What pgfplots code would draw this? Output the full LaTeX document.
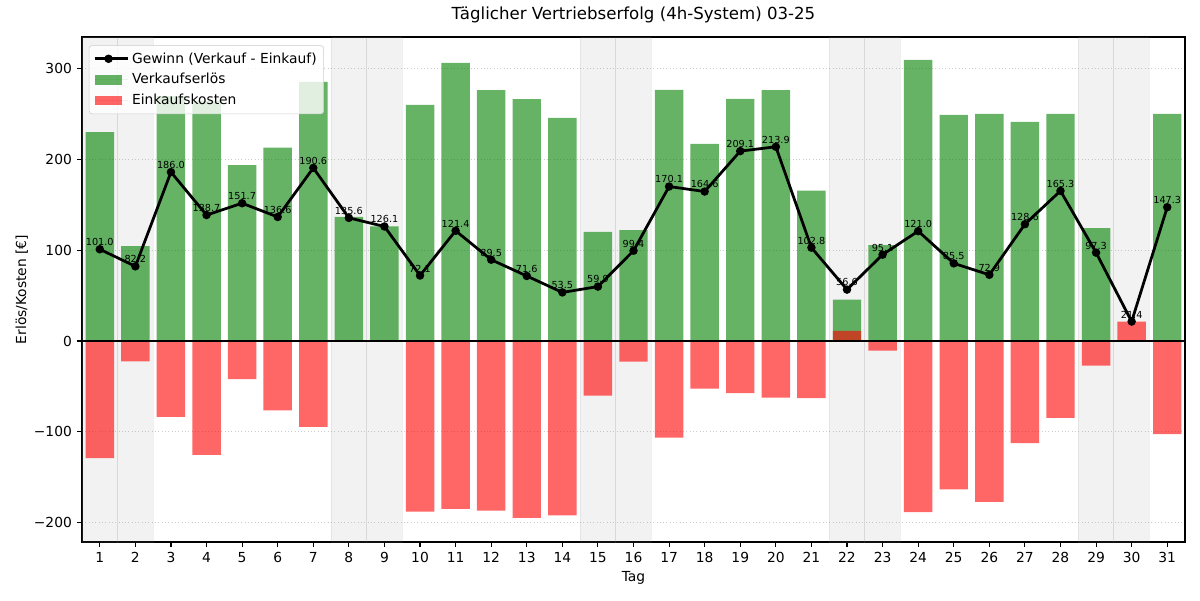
\documentclass[border=0pt]{standalone}
\usepackage{pgfplots}
\pgfplotsset{compat=1.18}
\usepackage{pgfplotstable}
\usepackage{fontspec}
\setmainfont{DejaVu Sans}
\definecolor{mplgreen}{RGB}{0,128,0}
\definecolor{mplred}{RGB}{255,0,0}
\definecolor{mplgray}{RGB}{128,128,128}

\pgfplotsset{
  lineleg/.style={legend image code/.code={
    \draw[##1, sharp corners, mark repeat=2, mark phase=2] plot coordinates {(0pt,0pt) (10pt,0pt) (20pt,0pt)};
    \path (0pt,0pt) -- (24pt,0pt);}},
  arealeg/.style={legend image code/.code={
    \fill[##1, sharp corners] (0pt,-3.5pt) rectangle (20pt,3.5pt);
    \path (0pt,0pt) -- (24pt,0pt);}},
}

\pgfplotstableread{
day green red profit
1 230.0 -129.0 101.0
2 104.6 -22.4 82.2
3 269.7 -83.7 186.0
4 264.2 -125.5 138.7
5 193.6 -41.9 151.7
6 213.0 -76.4 136.6
7 285.3 -94.7 190.6
8 136.6 -1.0 135.6
9 126.1 0.0 126.1
10 260.0 -187.9 72.1
11 306.4 -185.0 121.4
12 276.4 -186.9 89.5
13 266.5 -194.9 71.6
14 245.6 -192.1 53.5
15 120.2 -60.3 59.9
16 122.2 -22.8 99.4
17 276.6 -106.5 170.1
18 217.0 -52.4 164.6
19 266.6 -57.5 209.1
20 276.4 -62.5 213.9
21 165.6 -62.8 102.8
22 45.6 11.0 56.6
23 105.7 -10.6 95.1
24 309.5 -188.5 121.0
25 248.9 -163.4 85.5
26 250.0 -177.1 72.9
27 241.2 -112.6 128.6
28 250.0 -84.7 165.3
29 124.4 -27.1 97.3
30 0.0 21.4 21.4
31 250.0 -102.7 147.3
}\datatable

\begin{document}
\begin{tikzpicture}
\path[use as bounding box] (-59.26pt,-41.92pt) rectangle (807.98pt,391.71pt);
\begin{axis}[
  at={(0,0)}, anchor=south west,
  scale only axis,
  width=797.15pt, height=364.97pt,
  xmin=0.5, xmax=31.5,
  ymin=-221.4, ymax=334.8,
  axis line style={black, line width=0.8pt},
  tick align=outside,
  major tick length=3.5pt,
  tick style={black, line width=0.8pt},
  xtick pos=lower, ytick pos=left,
  xtick={1,...,31},
  ytick={-200,-100,0,100,200,300},
  yticklabels={−200,−100,0,100,200,300},
  /pgf/number format/assume math mode=true,
  ticklabel style={font=\fontsize{10}{12}\selectfont},
  xticklabel style={anchor=north, inner sep=0pt, yshift=-3.6pt},
  yticklabel style={anchor=east, inner sep=0pt, xshift=-3.6pt},
  ymajorgrids,
  grid style={gray!40, dotted, line width=0.6pt},
  title={Täglicher Vertriebserfolg (4h-System) 03-25},
  title style={font=\fontsize{12}{14}\selectfont, at={(axis description cs:0.5,1)}, anchor=base, inner sep=0pt, yshift=6.3pt},
  xlabel={Tag},
  xlabel style={font=\fontsize{10}{12}\selectfont, at={(axis description cs:0.5,0)}, anchor=base, inner sep=0pt, yshift=-28.7pt},
  ylabel={Erlös/Kosten [€]},
  ylabel style={font=\fontsize{10}{12}\selectfont, at={(axis description cs:-0.0545,0.5)}, anchor=center, inner sep=0pt},
  legend style={at={(axis description cs:0,1)}, anchor=north west, xshift=5pt, yshift=-6pt,
    font=\fontsize{10}{12}\selectfont, draw=black!20, rounded corners=2pt,
    fill=white, fill opacity=0.8, text opacity=1, inner xsep=3pt, inner ysep=3pt,
    row sep=2pt},
  legend cell align=left,
]
% weekend shading
\foreach \d in {1,2,8,9,15,16,22,23,29,30}{
  \edef\tmp{\noexpand\fill[mplgray, fill opacity=0.1, draw=mplgray, draw opacity=0.12, line width=0.7pt]
    (axis cs:{\d-0.5},-221.4) rectangle (axis cs:{\d+0.5},334.8);}
  \tmp
}
\addlegendimage{black, line width=2pt, mark=*, mark size=2pt, lineleg}
\addlegendentry{Gewinn (Verkauf - Einkauf)}
\addlegendimage{draw=none, fill=mplgreen, fill opacity=0.6, arealeg}
\addlegendentry{Verkaufserlös}
\addlegendimage{draw=none, fill=mplred, fill opacity=0.6, arealeg}
\addlegendentry{Einkaufskosten}

\addplot[forget plot, ybar, bar width=0.8, bar shift=0pt, draw=none, fill=mplgreen, fill opacity=0.6]
  table[x=day, y=green] {\datatable};
\addplot[forget plot, ybar, bar width=0.8, bar shift=0pt, draw=none, fill=mplred, fill opacity=0.6]
  table[x=day, y=red] {\datatable};
\draw[black, line width=0.8pt] (axis cs:0.5,0) -- (axis cs:31.5,0);
\addplot[forget plot, black, line width=2pt, mark=*, mark size=2pt,
  nodes near coords={\pgfmathprintnumber[fixed, fixed zerofill, precision=1]{\pgfplotspointmeta}},
  point meta=explicit,
  every node near coord/.style={font=\fontsize{7}{8}\selectfont, anchor=south, inner sep=0pt, yshift=1.5pt, black}]
  table[x=day, y=profit, meta=profit] {\datatable};
\end{axis}
\end{tikzpicture}
\end{document}
